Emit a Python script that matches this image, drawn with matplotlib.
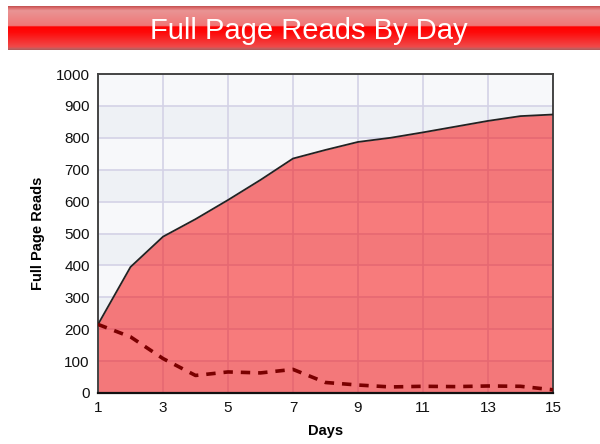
import numpy as np
import matplotlib.pyplot as plt
from matplotlib.colors import to_rgb

days = list(range(1, 16))
total_reads = [215, 395, 490, 545, 605, 668, 735, 762, 787, 800, 817, 835, 853, 868, 873]
daily_reads = [215, 176, 108, 55, 66, 63, 74, 33, 25, 19, 21, 20, 22, 21, 10]
x_ticks = list(range(1, 16, 2))
y_ticks = list(range(0, 1001, 100))

plt.rcParams['font.family'] = ['Liberation Sans', 'DejaVu Sans']

fig = plt.figure(figsize=(6, 4.44), dpi=100)

# glossy red title bar
bar = fig.add_axes([8 / 600, 1 - 50 / 444, 1 - 8 / 600, 44 / 444])
stops = [(0.0, '#c05050'), (0.05, '#e07070'), (0.1, '#e99494'),
         (0.45, '#f07676'), (0.47, '#ff0000'), (0.6, '#ff0a0a'),
         (0.93, '#f04a4a'), (0.97, '#c06060'), (1.0, '#b05858')]
pos = np.linspace(0, 1, 200)
cols = np.array([to_rgb(c) for _, c in stops])
grad = np.stack([np.interp(pos, [p for p, _ in stops], cols[:, k]) for k in range(3)], axis=1)
bar.imshow(grad[:, None, :], aspect='auto', extent=[0, 1, 1, 0])
bar.set_xlim(0, 1)
bar.set_ylim(1, 0)
bar.axis('off')
bar.text(0.508, 0.56, 'Full Page Reads By Day', color='white', fontsize=21,
         ha='center', va='center')

ax = fig.add_axes([98 / 600, 1 - 393 / 444, 455 / 600, 319 / 444])

# alternating background bands
for i, (lo, hi) in enumerate(zip(y_ticks[:-1], y_ticks[1:])):
    ax.axhspan(lo, hi, color='#eef1f5' if i % 2 == 0 else '#f7f8fa', zorder=0, lw=0)

ax.set_axisbelow(True)
ax.grid(True, color='#d4d2e6', linewidth=1.2, zorder=1)

ax.fill_between(days, total_reads, 0, color='#f80000', alpha=0.5, lw=0, zorder=2)
ax.plot(days, total_reads, color='#222222', lw=1.3, zorder=3)
ax.plot(days, daily_reads, color='#7a0000', lw=2.6, dashes=(2.6, 2.2), zorder=4)

ax.set_xlim(1, 15)
ax.set_ylim(0, 1000)
ax.set_xticks(x_ticks)
ax.set_yticks(y_ticks)
ax.tick_params(length=0, labelsize=11, pad=6, colors='#111111')
for side in ['left', 'top', 'right']:
    ax.spines[side].set_color('#444444')
    ax.spines[side].set_linewidth(1.4)
ax.spines['bottom'].set_color('#111111')
ax.spines['bottom'].set_linewidth(1.6)

ax.set_xlabel('Days', fontsize=10.5, fontweight='bold', labelpad=6)
ax.set_ylabel('Full Page Reads', fontsize=10.5, fontweight='bold', labelpad=8)

fig.savefig('out.png', dpi=100)
